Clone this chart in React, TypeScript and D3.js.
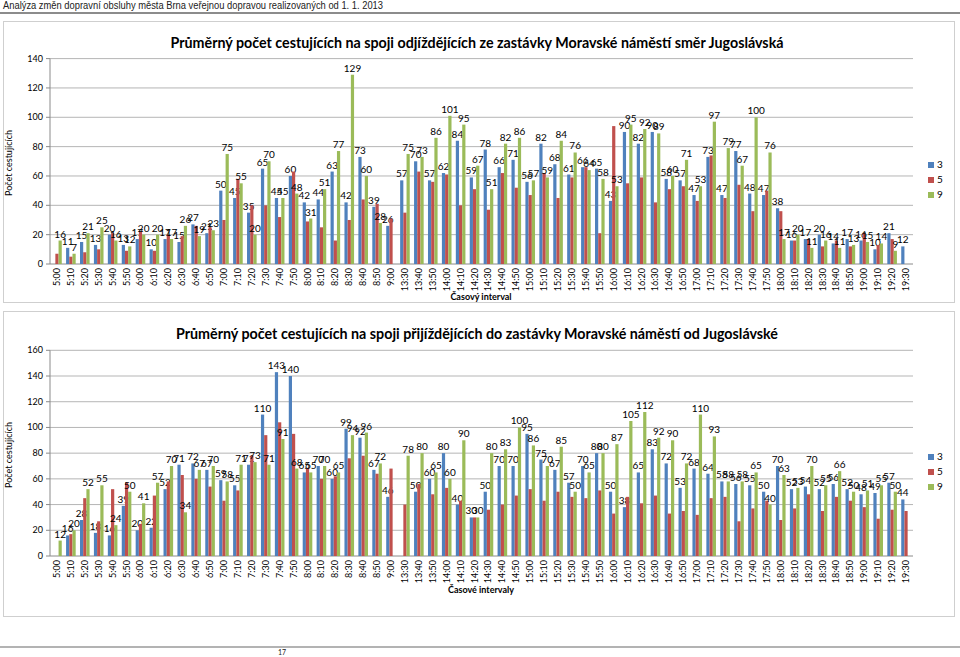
import React from "react";
import * as d3 from "d3";

const categories = ["5:00","5:10","5:20","5:30","5:40","5:50","6:00","6:10","6:20","6:30","6:40","6:50","7:00","7:10","7:20","7:30","7:40","7:50","8:00","8:10","8:20","8:30","8:40","8:50","9:00","13:30","13:40","13:50","14:00","14:10","14:20","14:30","14:40","14:50","15:00","15:10","15:20","15:30","15:40","15:50","16:00","16:10","16:20","16:30","16:40","16:50","17:00","17:10","17:20","17:30","17:40","17:50","18:00","18:10","18:20","18:30","18:40","18:50","19:00","19:10","19:20","19:30"];

const seriesNames = ["3", "5", "9"];
const seriesColors = ["#4F81BD", "#C0504D", "#9BBB59"];

// Chart 1: departures towards Jugoslávská
const depLine3 = [0,11,15,13,20,13,17,10,17,15,27,21,50,45,35,65,45,60,42,44,63,42,73,39,26,57,70,57,62,84,59,78,66,71,56,82,68,61,66,65,43,90,82,90,58,57,47,73,47,77,48,47,38,16,17,20,14,17,16,10,21,12];
const depLine5 = [7,5,8,10,21,9,22,9,20,19,26,25,30,58,40,40,32,63,29,25,16,30,44,41,31,35,63,56,61,40,51,37,62,52,47,62,45,59,66,21,94,55,59,42,51,53,43,74,45,54,36,50,36,16,17,12,16,12,21,13,17,0];
const depLine9 = [16,7,21,25,16,12,20,20,17,26,19,23,75,55,20,70,45,48,31,51,77,129,60,28,0,75,73,86,101,95,67,51,82,86,57,59,84,76,64,58,53,95,92,89,60,71,53,97,79,67,100,76,17,20,11,16,11,13,15,14,9,0];
const depTicks = [0,20,40,60,80,100,120,140];

// Chart 2: arrivals from Jugoslávská
const arrLine3 = [0,16,28,18,16,39,20,22,52,71,72,67,59,55,71,110,143,140,65,70,60,99,92,67,46,0,50,60,80,40,30,50,70,70,95,75,67,57,70,80,50,38,65,83,72,53,68,64,58,56,55,50,70,52,54,52,56,52,48,49,57,44];
const arrLine5 = [0,17,45,27,52,57,25,47,58,63,60,54,43,51,78,94,104,95,68,60,62,76,78,64,68,40,56,48,53,43,30,36,40,47,52,43,50,46,45,51,33,46,41,47,33,35,32,45,46,27,37,43,28,37,48,35,46,43,38,29,36,35];
const arrLine9 = [12,20,52,55,24,50,41,57,70,34,67,70,58,71,73,71,91,68,65,70,65,94,96,72,0,78,80,65,60,90,30,80,83,100,86,70,85,50,65,80,87,105,112,92,90,72,110,93,58,58,65,40,63,53,70,55,66,50,51,55,50,0];
const arrTicks = [0,20,40,60,80,100,120,140,160];

const headerText = "Analýza změn dopravní obsluhy města Brna veřejnou dopravou realizovaných od 1. 1. 2013";
const title1 = "Průměrný počet cestujících na spoji odjíždějících ze zastávky Moravské náměstí směr Jugoslávská";
const title2 = "Průměrný počet cestujících na spoji přijíždějících do zastávky Moravské náměstí od Jugoslávské";
const yTitle = "Počet cestujících";
const xTitle1 = "Časový interval";
const xTitle2 = "Časové intervaly";

const FONT = "Lato, 'Open Sans', sans-serif";

type ChartProps = {
  series: number[][];
  ticks: number[];
  yZero: number;
  yTop: number;
  title: string;
  titleY: number;
  titleLen: number;
  xTitle: string;
  xTitleY: number;
  legendY: number;
  yTitleY: number;
};

function BarChart(p: ChartProps) {
  const x0 = d3.scaleBand<string>().domain(categories).range([50, 913]).paddingInner(0).paddingOuter(0);
  const step = x0.bandwidth();
  const groupW = step * 0.69;
  const x1 = d3.scaleBand<string>().domain(seriesNames).range([0, groupW]);
  const maxT = p.ticks[p.ticks.length - 1];
  const y = d3.scaleLinear().domain([0, maxT]).range([p.yZero, p.yTop]);
  const offset = (step - groupW) / 2;
  return (
    <g>
      <text x={477} y={p.titleY} textAnchor="middle" fontFamily={FONT} fontWeight="bold" fontSize={16} textLength={p.titleLen} lengthAdjust="spacingAndGlyphs" fill="#000">{p.title}</text>
      {p.ticks.map((t) => (
        <g key={"t" + t}>
          <line x1={50} x2={913} y1={y(t)} y2={y(t)} stroke={t === 0 ? "#8a8a8a" : "#b5b5b5"} strokeWidth={1} />
          <line x1={46} x2={50} y1={y(t)} y2={y(t)} stroke="#8a8a8a" />
          <text x={43} y={y(t) + 3} textAnchor="end" fontFamily={FONT} fontSize={9} fill="#000">{t}</text>
        </g>
      ))}
      <line x1={50} x2={50} y1={p.yTop} y2={p.yZero} stroke="#8a8a8a" />
      <text transform={`translate(12,${p.yTitleY}) rotate(-90)`} textAnchor="middle" fontFamily={FONT} fontSize={9} fill="#000">{yTitle}</text>
      {categories.map((c, i) => (
        <g key={c} transform={`translate(${x0(c)! + offset},0)`}>
          {p.series.map((s, si) => {
            const v = s[i];
            const bx = x1(seriesNames[si])!;
            const bw = x1.bandwidth();
            return (
              <g key={si}>
                <rect x={bx} y={y(v)} width={bw} height={Math.max(0, p.yZero - y(v))} fill={seriesColors[si]} />
                {si !== 1 && v > 0 ? (
                  <text x={bx + bw / 2} y={y(v) - 3} textAnchor="middle" fontFamily={FONT} fontSize={10} fill="#000">{v}</text>
                ) : null}
              </g>
            );
          })}
        </g>
      ))}
      {categories.map((c) => (
        <text key={"l" + c} transform={`translate(${x0(c)! + step / 2 + 3},${p.yZero + 4}) rotate(-90)`} textAnchor="end" fontFamily={FONT} fontSize={9} fill="#000">{c}</text>
      ))}
      <text x={481} y={p.xTitleY} textAnchor="middle" fontFamily={FONT} fontWeight="bold" fontSize={9} fill="#000">{p.xTitle}</text>
      {seriesNames.map((n, i) => (
        <g key={"lg" + n}>
          <rect x={928} y={p.legendY + i * 15 - 6} width={6} height={6} fill={seriesColors[i]} />
          <text x={937} y={p.legendY + i * 15} fontFamily={FONT} fontSize={10} fill="#000">{n}</text>
        </g>
      ))}
    </g>
  );
}

export default function App() {
  return (
    <svg width={960} height={657} style={{ position: "absolute", left: 0, top: 0, background: "#fff" }}>
      <rect x={0} y={0} width={960} height={657} fill="#fff" />
      <text x={3} y={9} fontFamily="'Liberation Sans', Arial, sans-serif" fontSize={10} textLength={380} lengthAdjust="spacingAndGlyphs" fill="#222">{headerText}</text>
      <line x1={0} x2={960} y1={13} y2={13} stroke="#8c8c8c" strokeWidth={2} />
      <rect x={3.5} y={21.5} width={951} height={281} fill="#fff" stroke="#cfcfcf" />
      <rect x={3.5} y={311.5} width={951} height={305} fill="#fff" stroke="#cfcfcf" />
      <BarChart series={[depLine3, depLine5, depLine9]} ticks={depTicks} yZero={264} yTop={58.6} title={title1} titleY={48} titleLen={613} xTitle={xTitle1} xTitleY={300} legendY={168} yTitleY={163} />
      <BarChart series={[arrLine3, arrLine5, arrLine9]} ticks={arrTicks} yZero={556} yTop={350.3} title={title2} titleY={339} titleLen={602} xTitle={xTitle2} xTitleY={593} legendY={460} yTitleY={455} />
      <line x1={0} x2={960} y1={647} y2={647} stroke="#9a9a9a" strokeWidth={1.5} />
      <text x={278} y={655} fontFamily={FONT} fontSize={7} fill="#222">17</text>
    </svg>
  );
}
